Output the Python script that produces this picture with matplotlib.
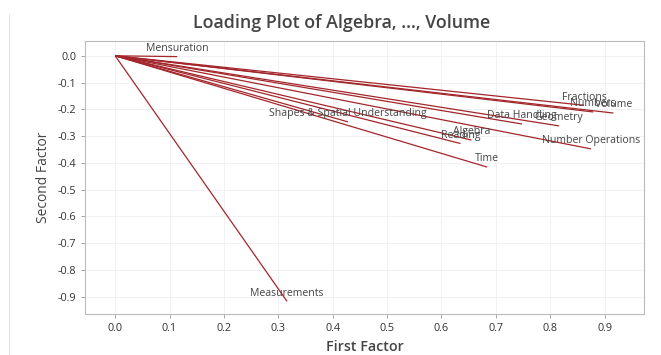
import matplotlib
matplotlib.use("Agg")
import matplotlib.pyplot as plt
from matplotlib.lines import Line2D

# Loadings (first factor, second factor)
variables = ["Mensuration", "Measurements", "Time", "Number Operations",
             "Geometry", "Data Handling", "Volume", "Numbers", "Fractions",
             "Algebra", "Reading", "Shapes & Spatial Understanding"]
factor1 = [0.114, 0.316, 0.684, 0.875, 0.816, 0.748, 0.916, 0.879, 0.862,
           0.655, 0.635, 0.428]
factor2 = [-0.003, -0.918, -0.416, -0.348, -0.262, -0.255, -0.214, -0.210,
           -0.185, -0.315, -0.328, -0.247]

xticks = [0.0, 0.1, 0.2, 0.3, 0.4, 0.5, 0.6, 0.7, 0.8, 0.9]
yticks = [0.0, -0.1, -0.2, -0.3, -0.4, -0.5, -0.6, -0.7, -0.8, -0.9]

plt.rcParams['font.family'] = ['Open Sans', 'DejaVu Sans']

fig = plt.figure(figsize=(6.61, 3.55), dpi=100)
ax = fig.add_axes([0.129, 0.115, 0.845, 0.77])

line_color = '#a3262a'
for name, x, y in zip(variables, factor1, factor2):
    ax.plot([0, x], [0, y], color=line_color, lw=0.9, solid_capstyle='butt')
    ax.annotate(name, (x, y), xytext=(0, 2), textcoords='offset points',
                ha='center', va='bottom', fontsize=7.6, color='#444444')

ax.set_xlim(-0.055, 0.972)
ax.set_ylim(-0.966, 0.056)
ax.set_xticks(xticks)
ax.set_yticks(yticks)
ax.set_xticklabels([f"{t:.1f}" for t in xticks])
ax.set_yticklabels([f"{t:.1f}" for t in yticks])
ax.tick_params(labelsize=7.8, colors='#333333', length=3, width=0.6,
               color='#999999')
ax.grid(True, color='#efefef', lw=0.6)
ax.set_axisbelow(True)
for s in ax.spines.values():
    s.set_color('#bbbbbb')
    s.set_linewidth(0.8)

ax.set_xlabel("First Factor", fontsize=10.3, fontweight='semibold',
              color='#444444', labelpad=4)
ax.set_ylabel("Second Factor", fontsize=10, color='#444444', labelpad=5)
fig.text(0.517, 0.935, "Loading Plot of Algebra, ..., Volume", ha='center',
         va='center', fontsize=12.8, fontweight='semibold', color='#444444')

# light frame line on the left edge
fig.add_artist(Line2D([0.014, 0.014], [0.0, 0.96], transform=fig.transFigure,
                      color='#e4e4e4', lw=0.8))

fig.savefig("out.png", dpi=100)
